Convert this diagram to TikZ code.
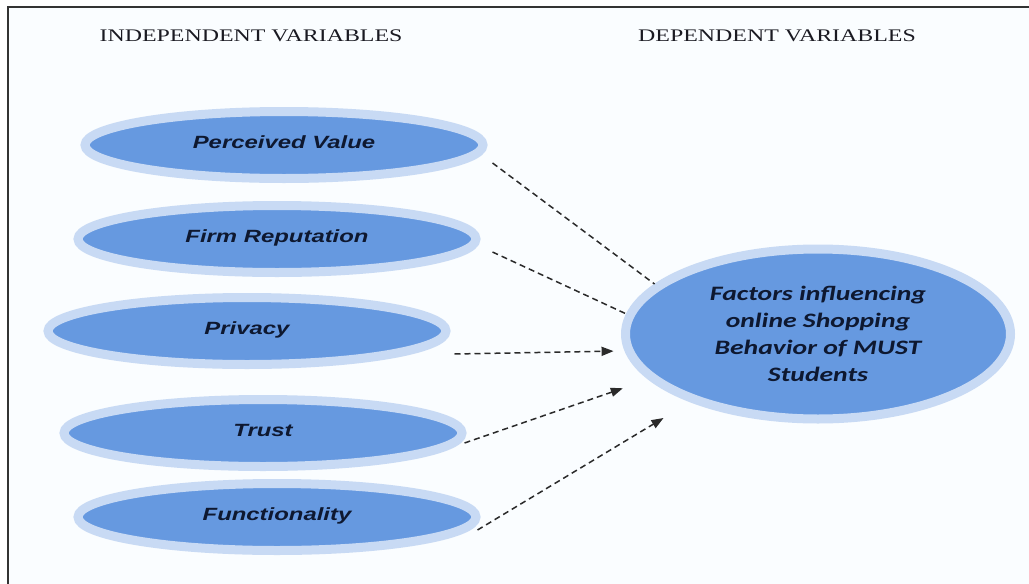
\documentclass[tikz,border=0pt]{standalone}
\usepackage{fontspec}
\usetikzlibrary{shapes.geometric,arrows.meta,calc}

% Wide faces used throughout the figure
\newfontfamily\hdrfont[FakeStretch=1.35]{Liberation Serif}
\newfontfamily\lblfont[FakeStretch=1.35]{Liberation Sans}
\newfontfamily\dvfont[FakeStretch=1.35]{Carlito}

\definecolor{coreblue}{HTML}{6699E0}
\definecolor{ringblue}{HTML}{C8DAF4}
\definecolor{labelink}{HTML}{0E1830}
\definecolor{headink}{HTML}{1A1A22}
\definecolor{linkgray}{HTML}{2A2A2A}
\definecolor{paper}{HTML}{FAFDFF}
\definecolor{framegray}{HTML}{333333}

\begin{document}
\begin{tikzpicture}[x=1pt,y=-1pt,
  indep/.style={ellipse, draw=ringblue, line width=9pt, fill=coreblue,
    minimum width=398pt, minimum height=67pt, inner sep=0pt,
    font=\lblfont\bfseries\itshape\fontsize{17.7}{21}\selectfont,
    text=labelink, text height=12.7pt, text depth=6pt},
  depvar/.style={ellipse, draw=ringblue, line width=9pt, fill=coreblue,
    minimum width=385pt, minimum height=170pt, inner sep=0pt, align=center,
    font=\dvfont\bfseries\itshape\fontsize{20.5}{27}\selectfont,
    text=labelink},
  link/.style={draw=linkgray, line width=1.5pt, dash pattern=on 6pt off 4pt},
  arrowlink/.style={link, -{Triangle[length=12pt,width=9pt]}},
  head/.style={font=\hdrfont\fontsize{17.7}{21}\selectfont, text=headink,
    inner sep=0pt, anchor=base}
]
\useasboundingbox (0,0) rectangle (1029,584);

% page and frame
\fill[paper] (8,7) rectangle (1029,584);
\draw[framegray, line width=1.8pt] (8,584) -- (8,7) -- (1029,7);

% column headings
\node[head] (indephdr) at (251,41.5) {INDEPENDENT VARIABLES};
\node[head] (dephdr)   at (777,41.5) {DEPENDENT VARIABLES};

% independent variables
\node[indep] (pv) at (284,145) {Perceived Value};
\node[indep] (fr) at (277,239) {Firm Reputation};
\node[indep] (pr) at (247,331) {Privacy};
\node[indep] (tr) at (263,433) {Trust};
\node[indep] (fu) at (277,517) {Functionality};

% dependent variable
\node[depvar] (dv) at (818,334)
  {Factors influencing\\online Shopping\\Behavior of MUST\\Students};

% links
\draw[link] ($(pv.east)+(5,18)$) -- (dv.163);
\draw[link] ($(fr.east)+(12,13)$) -- (dv.174);
\draw[arrowlink, shorten >=11pt] ($(pr.east)+(4,23)$) -- (dv.185);
\draw[arrowlink, shorten >=27pt] ($(tr.east)+(-2,10)$) -- (dv.195);
\draw[arrowlink, shorten >=31pt] ($(fu.east)+(-3,13)$) -- (dv.208);
\end{tikzpicture}
\end{document}
